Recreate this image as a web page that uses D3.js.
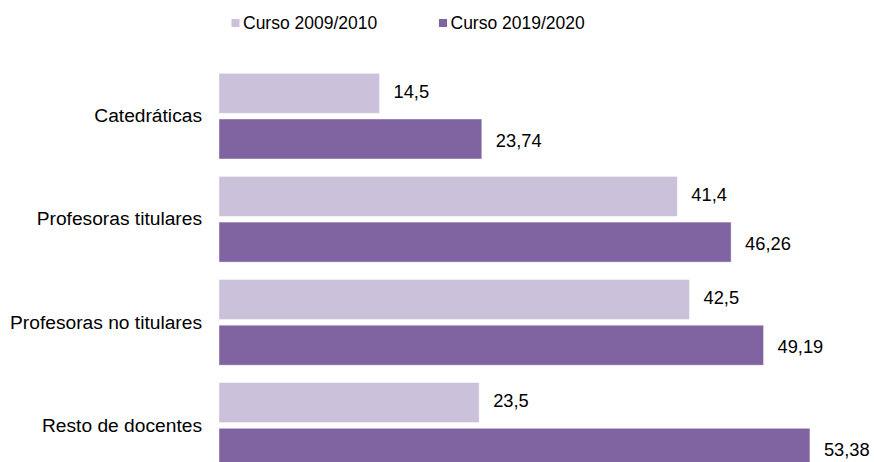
<!DOCTYPE html>
<html>
<head>
<meta charset="utf-8">
<script src="https://cdn.jsdelivr.net/npm/d3@7"></script>
<style>
  html, body { margin: 0; padding: 0; background: #fff; }
  svg { display: block; font-family: "Liberation Sans", Arial, sans-serif; }
</style>
</head>
<body>
<svg id="chart" width="874" height="462"></svg>
<script>
const categories = ["Catedráticas", "Profesoras titulares", "Profesoras no titulares", "Resto de docentes"];
const seriesNames = ["Curso 2009/2010", "Curso 2019/2020"];
const values2009 = [14.5, 41.4, 42.5, 23.5];
const values2019 = [23.74, 46.26, 49.19, 53.38];
const labels2009 = ["14,5", "41,4", "42,5", "23,5"];
const labels2019 = ["23,74", "46,26", "49,19", "53,38"];
const colors = ["#CBC1DB", "#8064A2"];

const rows = categories.map((c, i) => ({
  cat: c,
  vals: [
    { s: 0, v: values2009[i], lab: labels2009[i] },
    { s: 1, v: values2019[i], lab: labels2019[i] }
  ]
}));

const svg = d3.select("#chart");
const x0 = 219;
const x = d3.scaleLinear().domain([0, 60]).range([x0, x0 + 60 * 11.07]);

const pi = 0.169;
const y = d3.scaleBand().domain(categories).range([64.6, 477]).paddingInner(pi).paddingOuter(pi / 2);
const ySub = d3.scaleBand().domain([0, 1]).range([0, y.bandwidth()]).paddingInner(0.125).paddingOuter(0);

const g = svg.append("g");
const groups = g.selectAll("g.grp").data(rows).join("g")
  .attr("class", "grp")
  .attr("transform", d => `translate(0,${y(d.cat)})`);

groups.selectAll("rect").data(d => d.vals).join("rect")
  .attr("x", x(0))
  .attr("y", d => ySub(d.s))
  .attr("width", d => x(d.v) - x(0))
  .attr("height", ySub.bandwidth())
  .attr("fill", d => colors[d.s])
  .attr("stroke", "#ffffff")
  .attr("stroke-opacity", 0.5)
  .attr("stroke-width", 0.8);

groups.selectAll("text.val").data(d => d.vals).join("text")
  .attr("class", "val")
  .attr("x", d => x(d.v) + 14)
  .attr("y", d => ySub(d.s) + ySub.bandwidth() / 2 + (d.s === 0 ? -2 : 1.5))
  .attr("dominant-baseline", "central")
  .attr("font-size", "18.3px")
  .attr("fill", "#000")
  .text(d => d.lab);

// category axis labels
const yAxis = d3.axisLeft(y).tickSize(0).tickPadding(17);
const ax = svg.append("g").attr("transform", `translate(${x0},0)`).call(yAxis);
ax.select(".domain").remove();
ax.selectAll("text")
  .attr("font-size", "19.2px")
  .attr("font-family", "'Liberation Sans', Arial, sans-serif")
  .attr("fill", "#000");

// legend
const legendX = [231.5, 439];
const leg = svg.append("g");
const li = leg.selectAll("g").data(seriesNames).join("g")
  .attr("transform", (d, i) => `translate(${legendX[i]},0)`);
li.append("rect")
  .attr("x", 0).attr("y", 19)
  .attr("width", 8).attr("height", 8)
  .attr("fill", (d, i) => colors[i]);
li.append("text")
  .attr("x", 11.5).attr("y", 29)
  .attr("font-size", "17.5px")
  .attr("fill", "#000")
  .text(d => d);
</script>
</body>
</html>
